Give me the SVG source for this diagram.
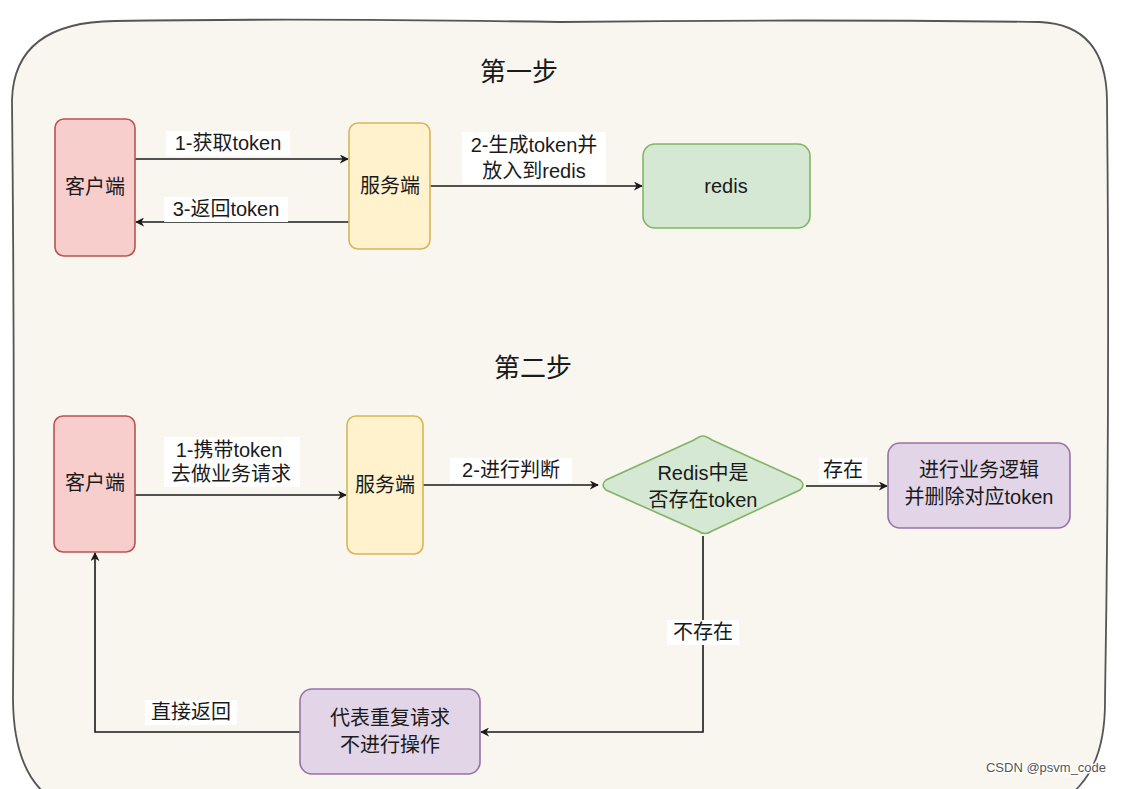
<svg xmlns="http://www.w3.org/2000/svg" width="1125" height="789" viewBox="0 0 1125 789">
<defs>
<style>
.t{font-family:"Liberation Sans","Noto Sans CJK SC",sans-serif;font-size:20px;fill:#1a1a1a;text-anchor:middle;dominant-baseline:central}
.title{font-size:26px}
.lbl{font-size:20px}
.bg{fill:#ffffff}
.edge{fill:none;stroke:#1a1a1a;stroke-width:1.6}
.red{fill:#f8cecc;stroke:#b85450;stroke-width:1.6}
.yel{fill:#fff2cc;stroke:#d6b656;stroke-width:1.6}
.grn{fill:#d5e8d4;stroke:#82b366;stroke-width:1.6}
.pur{fill:#e1d5e7;stroke:#9673a6;stroke-width:1.6}
</style>
<marker id="arr" viewBox="0 0 10 10" refX="9" refY="5" markerWidth="9" markerHeight="9" markerUnits="userSpaceOnUse" orient="auto">
<path d="M0,0 L10,5 L0,10 L3,5 Z" fill="#1a1a1a"/>
</marker>
</defs>
<rect width="1125" height="789" fill="#ffffff"/>
<g id="container">
<path d="M115,21 Q300,18 560,22 Q800,19 1040,22 Q1106,25 1107,100 Q1110,400 1105,700 Q1106,815 1000,815 L110,815 Q14,815 13,700 Q15,400 12,100 Q14,22 115,21 Z" fill="#f8f6ee" stroke="#555" stroke-width="1.8"/>
</g>
<g id="titles">
<text class="t title" x="519" y="72">第一步</text>
<text class="t title" x="533" y="368">第二步</text>
</g>
<g id="connectors">
<line class="edge" x1="135" y1="159" x2="348" y2="159" marker-end="url(#arr)"/>
<line class="edge" x1="349" y1="222" x2="136" y2="222" marker-end="url(#arr)"/>
<line class="edge" x1="430" y1="186" x2="642" y2="186" marker-end="url(#arr)"/>
<line class="edge" x1="135" y1="495" x2="346" y2="495" marker-end="url(#arr)"/>
<line class="edge" x1="423" y1="485" x2="598" y2="485" marker-end="url(#arr)"/>
<line class="edge" x1="806" y1="486" x2="887" y2="486" marker-end="url(#arr)"/>
<polyline class="edge" points="703,536 703,732 481,732" marker-end="url(#arr)"/>
<polyline class="edge" points="300,732 95,732 95,553" marker-end="url(#arr)"/>
<rect class="bg" x="166" y="131" width="124" height="25"/>
<text class="t lbl" x="228" y="143">1-获取token</text>
<rect class="bg" x="164" y="197" width="124" height="25"/>
<text class="t lbl" x="226" y="209">3-返回token</text>
<rect class="bg" x="462" y="132" width="144" height="52"/>
<text class="t lbl" x="534" y="145">2-生成token并</text>
<text class="t lbl" x="534" y="171">放入到redis</text>
<rect class="bg" x="164" y="437" width="136" height="50"/>
<text class="t lbl" x="229" y="450">1-携带token</text>
<text class="t lbl" x="231" y="474">去做业务请求</text>
<rect class="bg" x="450" y="458" width="122" height="25"/>
<text class="t lbl" x="511" y="470">2-进行判断</text>
<rect class="bg" x="819" y="458" width="48" height="25"/>
<text class="t lbl" x="843" y="470">存在</text>
<rect class="bg" x="667" y="620" width="72" height="25"/>
<text class="t lbl" x="703" y="632">不存在</text>
<rect class="bg" x="145" y="700" width="92" height="25"/>
<text class="t lbl" x="191" y="712">直接返回</text>
</g>
<g id="client1">
<rect class="red" x="55" y="119" width="80" height="137" rx="9"/>
<text class="t" x="95" y="187">客户端</text>
</g>
<g id="server1">
<rect class="yel" x="349" y="123" width="81" height="126" rx="9"/>
<text class="t" x="390" y="186">服务端</text>
</g>
<g id="redis">
<rect class="grn" x="643" y="144" width="167" height="84" rx="12"/>
<text class="t" x="726" y="186">redis</text>
</g>
<g id="client2">
<rect class="red" x="54" y="416" width="81" height="136" rx="9"/>
<text class="t" x="95" y="483">客户端</text>
</g>
<g id="server2">
<rect class="yel" x="347" y="416" width="76" height="138" rx="9"/>
<text class="t" x="385" y="485">服务端</text>
</g>
<g id="decision">
<path class="grn" d="M703,436 Q706,436 712,440 L800,480 Q806,485 800,490 L712,531 Q705,536 698,531 L606,490 Q600,485 606,480 L694,440 Q700,436 703,436 Z"/>
<text class="t" x="703" y="473">Redis中是</text>
<text class="t" x="703" y="500">否存在token</text>
</g>
<g id="business">
<rect class="pur" x="888" y="443" width="182" height="85" rx="12"/>
<text class="t" x="979" y="470">进行业务逻辑</text>
<text class="t" x="979" y="497">并删除对应token</text>
</g>
<g id="duplicate">
<rect class="pur" x="300" y="689" width="180" height="85" rx="12"/>
<text class="t" x="390" y="718">代表重复请求</text>
<text class="t" x="390" y="745">不进行操作</text>
</g>
<g id="watermark">
<text x="1046" y="772" style="font-family:'Liberation Sans','Noto Sans CJK SC',sans-serif;font-size:13px;fill:#555;text-anchor:middle;stroke:#ffffff;stroke-width:3;paint-order:stroke">CSDN @psvm_code</text>
</g>
</svg>
